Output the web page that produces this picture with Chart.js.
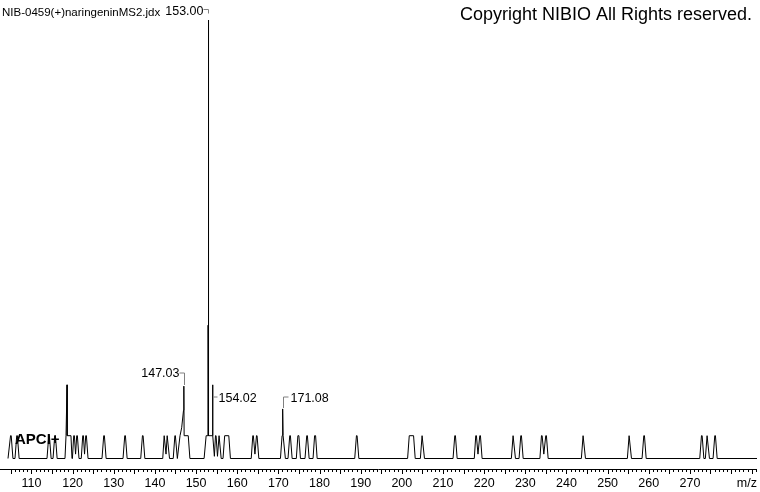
<!DOCTYPE html>
<html>
<head>
<meta charset="utf-8">
<script src="https://cdn.jsdelivr.net/npm/chart.js@4/dist/chart.umd.min.js"></script>
<style>
  html, body { margin: 0; padding: 0; background: #fff; }
  #wrap { width: 760px; height: 492px; position: relative; }
</style>
</head>
<body>
<div id="wrap"><canvas id="ms"></canvas></div>
<script>
// -------------------- DATA --------------------
// profile spectrum (m/z, relative intensity %)
const profileMz = [
  104.3,
  104.5, 104.92, 105.08, 105.5,
  106.0, 106.42, 106.58, 107.0,
  113.78, 114.2, 114.36, 114.78,
  115.24, 115.66, 115.82, 116.24,
  118.15, 118.4, 118.62, 118.65, 118.68, 119.6, 119.85,
  119.95, 120.27, 120.43, 120.72, 121.0, 121.16, 121.55,
  122.1, 122.46, 122.62, 122.9, 123.19, 123.35, 123.75,
  127.14, 127.56, 127.72, 128.14,
  132.25, 132.67, 132.83, 133.25,
  136.55, 136.97, 137.13, 137.55,
  141.9, 142.25, 142.41, 142.7, 142.98, 143.14, 143.55,
  144.45, 144.85, 144.97, 145.45,
  145.6, 146.1, 146.5, 146.95, 147.03, 147.1, 148.1, 148.5,
  151.95, 152.45, 152.88, 152.92, 153.0, 153.05, 153.95, 154.02, 154.08, 154.45, 154.72, 154.86, 155.2, 155.59, 155.73, 156.1,
  156.55, 156.95, 157.95, 158.35,
  163.4, 163.78, 163.92, 164.3, 164.68, 164.82, 165.25,
  170.5, 170.9, 171.0, 171.08, 171.15, 171.3, 171.7,
  172.34, 172.76, 172.92, 173.34,
  174.36, 174.74, 174.98, 175.36,
  176.47, 176.89, 177.05, 177.47,
  178.42, 178.8, 179.04, 179.42,
  188.55, 188.97, 189.13, 189.55,
  201.4, 201.8, 202.85, 203.25,
  204.5, 204.92, 205.08, 205.5,
  212.44, 212.86, 213.02, 213.44,
  217.6, 217.96, 218.12, 218.5, 218.94, 219.1, 219.5,
  226.61, 227.03, 227.19, 227.61,
  228.48, 228.9, 229.06, 229.48,
  233.55, 233.93, 234.09, 234.5, 234.97, 235.13, 235.55,
  243.62, 244.04, 244.2, 244.62,
  254.8, 255.22, 255.38, 255.8,
  258.37, 258.79, 258.95, 259.37,
  272.39, 272.81, 272.97, 273.39,
  273.75, 274.17, 274.33, 274.75,
  275.62, 276.04, 276.2, 276.62,
  286.3
];

const profileInt = [
  0,
  0, 5.2, 5.2, 0,
  0, 5.2, 5.2, 0,
  0, 5.2, 5.2, 0,
  0, 5.2, 5.2, 0,
  0, 5.2, 5.2, 16.8, 5.2, 5.2, 0,
  0, 5.2, 5.2, 1, 5.2, 5.2, 0,
  0, 5.2, 5.2, 1, 5.2, 5.2, 0,
  0, 5.2, 5.2, 0,
  0, 5.2, 5.2, 0,
  0, 5.2, 5.2, 0,
  0, 5.2, 5.2, 1, 5.2, 5.2, 0,
  0, 5.2, 5.2, 0,
  0, 5.2, 7, 11, 16.5, 5.2, 5.2, 0,
  0, 5.2, 5.2, 30.4, 100, 5.2, 5.2, 16.8, 5.2, 0.5, 5.2, 5.2, 0.5, 5.2, 5.2, 0,
  0, 5.2, 5.2, 0,
  0, 5.2, 5.2, 1, 5.2, 5.2, 0,
  0, 5.2, 7, 11.3, 5.2, 5.2, 0,
  0, 5.2, 5.2, 0,
  0, 5.2, 5.2, 0,
  0, 5.2, 5.2, 0,
  0, 5.2, 5.2, 0,
  0, 5.2, 5.2, 0,
  0, 5.2, 5.2, 0,
  0, 5.2, 5.2, 0,
  0, 5.2, 5.2, 0,
  0, 5.2, 5.2, 1, 5.2, 5.2, 0,
  0, 5.2, 5.2, 0,
  0, 5.2, 5.2, 0,
  0, 5.2, 5.2, 1, 5.2, 5.2, 0,
  0, 5.2, 5.2, 0,
  0, 5.2, 5.2, 0,
  0, 5.2, 5.2, 0,
  0, 5.2, 5.2, 0,
  0, 5.2, 5.2, 0,
  0, 5.2, 5.2, 0,
  0
];

// labelled peaks
const labelMz = [153.00, 147.03, 154.02, 171.08];

// x axis
const xMin = 104.3;
const xMax = 286.3;
const tickLabels = [110, 120, 130, 140, 150, 160, 170, 180, 190, 200, 210, 220, 230, 240, 250, 260, 270];

const fileName = "NIB-0459(+)naringeninMS2.jdx";
const copyright = "Copyright NIBIO All Rights reserved.";
const modeText = "APCI+";

// -------------------- LAYOUT --------------------
const AXIS_Y = 469;
const FONT = '"Liberation Sans", Arial, sans-serif';
// where each peak label sits relative to its peak
const labelLayout = [
  { side: "left",  textY: 15,  lineY: 9.5, drop: 4 },
  { side: "left",  textY: 377, lineY: 373, drop: 12 },
  { side: "dash",  textY: 402, lineY: 397, drop: 0 },
  { side: "right", textY: 402, lineY: 397, drop: 11 }
];

let points = profileMz.map((m, i) => ({ x: m, y: profileInt[i] }));

// -------------------- DECOR PLUGIN --------------------
const msDecor = {
  id: "msDecor",
  afterDraw(chart) {
    const ctx = chart.ctx;
    const xs = chart.scales.x, area = chart.chartArea;
    ctx.save();

    // axis + ticks
    ctx.strokeStyle = "#000";
    ctx.lineWidth = 1;
    ctx.beginPath();
    ctx.moveTo(0, AXIS_Y + 0.5);
    ctx.lineTo(area.right, AXIS_Y + 0.5);
    for (let v = Math.ceil(xs.min); v <= Math.floor(xs.max); v++) {
      let px = Math.round(xs.getPixelForValue(v)) + 0.5;
      ctx.moveTo(px, AXIS_Y);
      ctx.lineTo(px, AXIS_Y + (v % 5 === 0 ? 5 : 3));
    }
    ctx.stroke();

    ctx.fillStyle = "#000";
    ctx.font = "12.5px " + FONT;
    ctx.textAlign = "center";
    ctx.textBaseline = "alphabetic";
    tickLabels.forEach(t => {
      ctx.fillText(String(t), xs.getPixelForValue(t), 487);
    });
    ctx.textAlign = "right";
    ctx.fillText("m/z", 757, 487);

    // title + copyright
    ctx.textAlign = "left";
    ctx.font = "11.5px " + FONT;
    ctx.fillText(fileName, 2, 16);
    ctx.textAlign = "right";
    ctx.font = "18px " + FONT;
    ctx.fillText(copyright, 752, 20);

    // ionisation mode
    ctx.textAlign = "left";
    ctx.font = "bold 15px " + FONT;
    ctx.fillText(modeText, 15, 444);

    // peak labels with leaders
    ctx.font = "12.5px " + FONT;
    labelMz.forEach((mz, i) => {
      const lay = labelLayout[i];
      const px = Math.round(xs.getPixelForValue(mz)) + 0.5;
      const txt = mz.toFixed(2);
      ctx.strokeStyle = "#808080";
      ctx.beginPath();
      if (lay.side === "left") {
        ctx.moveTo(px - 5, lay.lineY);
        ctx.lineTo(px, lay.lineY);
        ctx.lineTo(px, lay.lineY + lay.drop);
        ctx.stroke();
        ctx.textAlign = "right";
        ctx.fillText(txt, px - 5, lay.textY);
      } else if (lay.side === "dash") {
        ctx.moveTo(px, lay.lineY);
        ctx.lineTo(px + 4, lay.lineY);
        ctx.stroke();
        ctx.textAlign = "left";
        ctx.fillText(txt, px + 5, lay.textY);
      } else {
        ctx.moveTo(px, lay.lineY + lay.drop);
        ctx.lineTo(px, lay.lineY);
        ctx.lineTo(px + 5, lay.lineY);
        ctx.stroke();
        ctx.textAlign = "left";
        ctx.fillText(txt, px + 7, lay.textY);
      }
    });

    ctx.restore();
  }
};

// -------------------- CHART --------------------
new Chart(document.getElementById("ms"), {
  type: "scatter",
  data: {
    datasets: [{
      data: points,
      showLine: true,
      borderColor: "#000",
      borderWidth: 1,
      pointRadius: 0,
      tension: 0,
      clip: false
    }]
  },
  options: {
    responsive: true,
    maintainAspectRatio: false,
    animation: false,
    devicePixelRatio: 1,
    layout: { padding: { left: 8, right: 3, top: 20, bottom: 33.5 } },
    plugins: { legend: { display: false }, tooltip: { enabled: false } },
    scales: {
      x: { type: "linear", min: xMin, max: xMax, display: false },
      y: { type: "linear", min: 0, max: 100, display: false }
    }
  },
  plugins: [msDecor]
});
</script>
</body>
</html>
